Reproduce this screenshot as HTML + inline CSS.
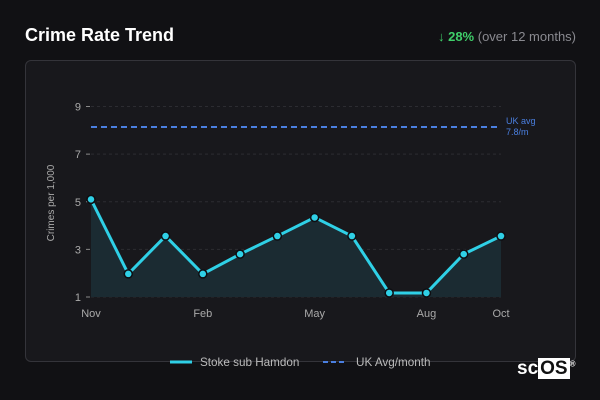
<!DOCTYPE html>
<html><head><meta charset="utf-8"><style>
body{margin:0;width:600px;height:400px;background:#111114;font-family:"Liberation Sans",sans-serif;overflow:hidden;position:relative}
.t{position:absolute;left:25px;top:25px;color:#fff;font-weight:bold;font-size:18px}
.chg{position:absolute;right:24px;top:29px;font-size:13px;color:#8a8a90}
.chg b{color:#3fcf6a}
.card{position:absolute;left:25px;top:60px;width:549px;height:300px;background:#18181c;border:1px solid #34343a;border-radius:6px}
.logo{position:absolute;left:517px;top:358px;color:#fff;font-weight:bold;font-size:19px}
.logo span{background:#fff;color:#111;padding:0 2px}
</style></head><body>
<div class="t">Crime Rate Trend</div>
<div class="chg"><b>↓ 28%</b> (over 12 months)</div>
<div class="card"></div>
<svg id="c" width="600" height="400" style="position:absolute;left:0;top:0"></svg>
<div class="logo">sc<span>OS</span><sup style="font-size:8px">®</sup></div>
<script>
const months=["Nov","Dec","Jan","Feb","Mar","Apr","May","Jun","Jul","Aug","Sep","Oct"];
const values=[5.1,1.97,3.56,1.97,2.8,3.56,4.34,3.56,1.17,1.17,2.8,3.56];
const ukAvg=[8.14];
const yTicks=[1,3,5,7,9];
const xTickLabels=["Nov","Feb","May","Aug","Oct"];
const NS="http://www.w3.org/2000/svg",svg=document.getElementById('c');
const X=i=>91+i*(501-91)/(months.length-1);
const Y=v=>297-(v-1)*(297-106.5)/8;
function mk(t,a,txt){const e=document.createElementNS(NS,t);for(const k in a)e.setAttribute(k,a[k]);if(txt!=null)e.textContent=txt;svg.appendChild(e);return e;}
yTicks.forEach(v=>{
 let g=mk('line',{x1:91,x2:501,y1:Y(v),y2:Y(v),stroke:'#2c2c31','stroke-dasharray':'3,3'});
 
 
 mk('line',{x1:86,x2:90,y1:Y(v),y2:Y(v),stroke:'#888'});
 let t=mk('text',{x:81,y:Y(v)+4,'text-anchor':'end',fill:'#aaa','font-size':11},v);
 
 
});
xTickLabels.forEach(m=>{
 let t=mk('text',{x:X(months.indexOf(m)),y:317,'text-anchor':'middle',fill:'#aaa','font-size':11},m);
 
 
});
let yt=mk('text',{x:0,y:0,transform:'translate(54,203) rotate(-90)','text-anchor':'middle',fill:'#aaa','font-size':10},'Crimes per 1,000');


let pts=values.map((v,i)=>X(i)+','+Y(v)).join(' ');
let area=mk('polygon',{points:X(0)+','+Y(1)+' '+pts+' '+X(values.length-1)+','+Y(1),fill:'#1b2b32'});


let avg=mk('line',{x1:91,x2:497,y1:Y(ukAvg[0]),y2:Y(ukAvg[0]),stroke:'#4a7fe0','stroke-width':2,'stroke-dasharray':'6,4'});


let al=mk('text',{x:506,y:Y(ukAvg[0])-3,fill:'#4a7fe0','font-size':9},'UK avg');


mk('text',{x:506,y:Y(ukAvg[0])+8,fill:'#4a7fe0','font-size':9},'7.8/m');
let ln=mk('polyline',{points:pts,fill:'none',stroke:'#2fd0e6','stroke-width':3,'stroke-linejoin':'round'});


values.forEach((v,i)=>{
 let c=mk('circle',{cx:X(i),cy:Y(v),r:4,fill:'#2fd0e6',stroke:'#0e0e12','stroke-width':1.5});
 
 
});
let l1=mk('line',{x1:170,x2:192,y1:362,y2:362,stroke:'#2fd0e6','stroke-width':3});


let lt1=mk('text',{x:200,y:366,fill:'#bbb','font-size':11.7},'Stoke sub Hamdon');


let l2=mk('line',{x1:323,x2:347,y1:362,y2:362,stroke:'#4a7fe0','stroke-width':2,'stroke-dasharray':'5,3'});


let lt2=mk('text',{x:356,y:366,fill:'#bbb','font-size':11.7},'UK Avg/month');


</script>
</body></html>
